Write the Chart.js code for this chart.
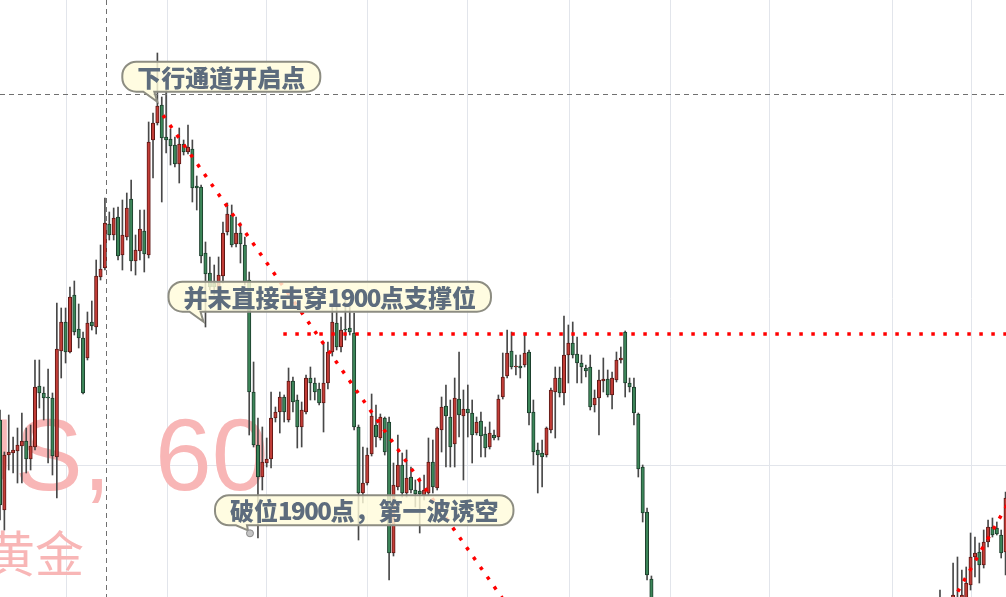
<!DOCTYPE html>
<html><head><meta charset="utf-8">
<script src="https://cdn.jsdelivr.net/npm/chart.js@4.4.1/dist/chart.umd.min.js"></script>
<style>html,body{margin:0;padding:0;background:#fff;overflow:hidden}canvas{display:block}</style>
</head><body><canvas id="c" width="1006" height="597"></canvas>
<script>
// ---- XAUUSD 60-minute candles (index = bar number from the left edge) ----
const segAStart = 0;
const segAOpen = [
1882.8,1864.8,1875.8,1876.2,1876.6,1877.6,1878.6,1875.0,1877.4,1889.6,
1888.2,1887.4,1887.2,1875.4,1896.6,1902.4,1896.4,1907.8,1901.0,1899.2,
1895.2,1902.4,1901.4,1911.4,1913.2,1922.0,1919.8,1923.4,1915.8,1919.4,
1927.0,1914.6,1916.6,1920.6,1915.8,1938.8,1942.2,1945.8,1939.4,1939.0,
1937.8,1934.0,1938.0,1936.4,1937.0,1929.6,1929.4,1916.2,1912.2,1910.2,
1908.8,1911.6,1920.4,1923.8,1918.0,1920.2,1917.8,1910.8,1888.4,1877.8,
1871.4,1874.2,1875.0,1883.2,1884.4,1887.4,1882.8,1890.6,1886.8,1881.4,
1884.4,1891.2,1890.2,1889.0,1886.2,1890.2,1896.4,1902.2,1897.4,1901.0,
1901.2,1900.2,1881.4,1868.2,1870.2,1876.0,1881.8,1879.2,1883.2,1882.4,
1856.2,1869.4,1873.8,1868.2,1871.4,1868.8,1868.6,1867.8,1868.2,1874.4,
1869.2,1880.8,1885.6,1883.4,1878.0,1887.0,1883.6,1885.0,1884.2,1880.2,
1882.6,1880.0,1877.4,1879.8,1879.4,1887.4,1891.6,1896.6,1893.4,1893.6,
1893.8,1896.4,1884.4,1876.8,1876.2,1875.8,1880.8,1888.4,1891.2,1888.2,
1895.8,1898.2,1896.0,1894.2,1893.2,1893.4,1885.8,1887.2,1890.6,1891.0,
1887.8,1890.8,1894.8,1900.4,1890.2,1889.4,1884.0,1873.4,1864.4,1851.0];
const segAHigh = [
1884.8,1876.4,1883.8,1879.4,1881.2,1884.2,1881.2,1881.8,1894.8,1894.8,
1889.4,1893.0,1888.2,1906.2,1905.2,1905.2,1909.4,1910.6,1906.0,1900.4,
1904.4,1906.6,1914.8,1917.8,1927.2,1924.4,1925.2,1925.4,1926.8,1928.2,
1930.8,1919.8,1924.8,1924.8,1942.4,1944.2,1956.2,1947.4,1951.2,1941.0,
1939.4,1941.2,1938.8,1941.8,1938.8,1931.6,1929.8,1918.4,1915.4,1913.8,
1915.4,1922.4,1926.2,1925.8,1923.4,1922.2,1919.4,1912.4,1894.4,1883.2,
1881.4,1879.2,1888.4,1885.4,1888.4,1887.8,1893.2,1891.4,1887.8,1886.4,
1891.8,1893.4,1891.2,1890.2,1898.2,1898.4,1906.2,1905.4,1903.4,1906.8,
1906.2,1904.2,1881.8,1877.4,1877.2,1888.0,1885.8,1884.0,1883.4,1883.4,
1874.2,1879.8,1876.2,1876.8,1873.4,1870.8,1871.2,1871.8,1879.2,1878.8,
1881.4,1887.4,1889.8,1886.8,1891.2,1896.4,1888.8,1889.8,1886.8,1883.4,
1884.4,1881.4,1882.4,1880.8,1887.8,1896.2,1900.8,1900.4,1895.8,1895.8,
1900.2,1896.8,1886.8,1878.2,1878.8,1881.4,1889.2,1893.4,1893.4,1903.6,
1901.8,1902.4,1899.4,1895.8,1893.8,1895.8,1888.8,1892.8,1895.2,1892.8,
1892.4,1896.4,1897.4,1900.6,1891.2,1891.2,1884.2,1873.8,1865.2,1851.6];
const segALow = [
1862.8,1860.8,1872.8,1872.2,1870.2,1870.2,1872.2,1872.8,1876.8,1885.2,
1882.8,1874.2,1871.8,1867.2,1891.2,1894.2,1896.2,1899.8,1897.2,1888.0,
1894.8,1900.8,1900.0,1910.8,1912.8,1918.8,1918.8,1914.8,1912.8,1918.8,
1912.6,1911.8,1914.8,1912.4,1915.2,1931.2,1941.8,1926.4,1936.2,1933.8,
1933.4,1930.2,1935.8,1936.0,1926.4,1924.8,1914.2,1901.4,1908.8,1907.8,
1908.4,1910.2,1919.8,1917.4,1917.4,1914.2,1909.8,1879.8,1877.4,1859.2,
1868.8,1873.4,1873.2,1882.4,1880.2,1882.4,1882.4,1884.4,1877.2,1877.4,
1884.0,1886.8,1886.8,1885.8,1880.4,1889.0,1895.6,1896.8,1896.4,1898.8,
1899.8,1880.8,1858.8,1866.2,1869.8,1875.6,1877.4,1878.8,1875.8,1850.8,
1855.6,1868.8,1867.4,1867.4,1868.2,1865.4,1860.2,1866.8,1867.8,1868.2,
1868.8,1876.4,1873.4,1873.4,1873.4,1879.4,1870.8,1879.4,1874.2,1879.8,
1875.4,1875.4,1877.0,1878.8,1878.8,1887.0,1891.2,1893.0,1891.8,1891.2,
1893.4,1881.8,1873.8,1868.2,1869.4,1875.4,1880.2,1879.2,1887.4,1885.8,
1890.2,1895.2,1890.2,1890.2,1891.4,1884.8,1884.4,1879.8,1888.4,1887.4,
1885.0,1890.4,1894.2,1887.4,1888.4,1881.8,1871.4,1862.4,1850.8,1841.8];
const segAClose = [
1865.8,1875.8,1876.4,1876.8,1877.8,1878.6,1875.0,1877.6,1889.4,1888.2,
1887.2,1887.2,1875.6,1897.0,1902.4,1896.4,1907.4,1900.4,1899.2,1888.2,
1902.2,1901.6,1911.6,1913.0,1922.2,1919.8,1923.2,1915.6,1919.8,1925.2,
1914.6,1916.8,1921.0,1916.0,1938.4,1942.2,1945.6,1939.2,1938.8,1937.6,
1934.0,1938.0,1936.4,1937.4,1929.2,1929.2,1915.6,1912.0,1909.4,1909.4,
1911.8,1920.2,1924.0,1917.8,1920.2,1918.0,1910.4,1888.4,1877.8,1871.4,
1874.4,1875.0,1883.2,1884.4,1887.4,1884.4,1890.6,1886.4,1881.4,1884.8,
1891.2,1890.2,1888.4,1886.2,1890.2,1896.4,1902.4,1897.4,1900.8,1900.8,
1900.4,1881.4,1868.2,1870.2,1875.8,1883.6,1879.4,1883.4,1876.4,1856.2,
1869.8,1873.8,1868.2,1871.2,1868.8,1868.0,1868.0,1868.8,1874.4,1869.4,
1881.2,1885.4,1883.6,1877.4,1887.2,1883.8,1885.0,1884.2,1879.8,1882.4,
1879.6,1877.2,1880.2,1879.2,1887.0,1891.4,1896.2,1893.4,1893.6,1893.2,
1896.2,1884.2,1876.4,1875.8,1875.4,1881.2,1888.8,1891.2,1888.2,1895.8,
1898.2,1895.8,1894.2,1893.4,1892.6,1885.4,1887.2,1890.8,1891.0,1887.8,
1891.2,1894.8,1895.2,1890.2,1889.4,1884.2,1873.0,1864.2,1851.8,1842.8];

const segBStart = 215;
const segBOpen  = [1846.8,null,null,1846.8,1847.0,1846.4,1846.8,1849.8,1855.4,1856.4,1853.8,1858.4,1861.4,1861.2,1859.8,1856.4];
const segBHigh  = [1848.8,null,null,1854.2,1855.4,1852.8,1853.4,1860.2,1859.4,1858.2,1860.8,1862.8,1863.2,1862.4,1860.8,1868.4];
const segBLow   = [1843.8,null,null,1845.8,1844.8,1845.8,1845.8,1848.8,1851.4,1850.2,1853.2,1857.4,1859.4,1859.8,1855.2,1851.8];
const segBClose = [1845.2,null,null,1847.8,1846.2,1847.8,1850.2,1855.4,1856.2,1853.8,1858.4,1861.4,1859.8,1860.0,1856.2,1867.2];

// drawn lines (bar index, price)
const downTrendLine = [{x:37.29, y:1943.76}, {x:120, y:1840.8}];
const supportLine   = [{x:64.8, y:1900}, {x:232, y:1900}];
const upTrendLine   = [{x:215.0, y:1842.2}, {x:231.0, y:1866.8}];
const crosshair = {x:24.18, y:1948.1};

// grid positions (day separators / price level)
const xGridTicks = [15.32, 38.2, 61.07, 84.17, 107.04, 130.37, 153.25, 176.12, 204.25, 222.32];
const yGridTicks = [1873.8];
const xRange = [0, 230.1];
const yRange = [1847.4, 1966.8];

const callouts = [
  {text:'下行通道开启点', x:35.98, y:1946.46, dot:false},
  {text:'并未直接击穿1900点支撑位', x:46.55, y:1902.46, dot:false},
  {text:'破位1900点，第一波诱空', x:57.18, y:1860.14, dot:true}
];
const watermarkMain = ['US,', '60'];
const watermarkSub = '黄金';

// ---- build candles ----
function buildSeg(start, O, H, L, C) {
  const out = [];
  for (let k = 0; k < O.length; k++) {
    if (O[k] == null) continue;
    out.push({x: start + k, o: O[k], h: H[k], l: L[k], c: C[k]});
  }
  return out;
}
const candles = buildSeg(segAStart, segAOpen, segAHigh, segALow, segAClose)
  .concat(buildSeg(segBStart, segBOpen, segBHigh, segBLow, segBClose));

const UP_FILL = '#c23d37', UP_EDGE = '#5e1815';
const DN_FILL = '#3c8659', DN_EDGE = '#1b3d2b';
const CALLOUT_FONT = '900 24px "Noto Sans CJK SC", sans-serif';

// split text into runs: digits get tighter spacing
function runsOf(text) {
  return text.match(/[0-9]+|[^0-9]+/g).map(s => ({s, digit: /^[0-9]/.test(s)}));
}
function setSpacing(ctx, digit) {
  if ('letterSpacing' in ctx) ctx.letterSpacing = digit ? '-1.5px' : '0px';
}
function measureRuns(ctx, runs) {
  let w = 0;
  for (const r of runs) { setSpacing(ctx, r.digit); w += ctx.measureText(r.s).width; }
  setSpacing(ctx, false);
  return w;
}

const overlay = {
  id: 'overlay',
  beforeDatasetsDraw(chart) {
    const ctx = chart.ctx;
    ctx.save();
    ctx.fillStyle = '#f8b6b6';
    ctx.textBaseline = 'alphabetic';
    ctx.font = '102px "Liberation Sans", Arial, sans-serif';
    ctx.textAlign = 'right';
    ctx.fillText(watermarkMain[0], 111, 490);
    ctx.textAlign = 'left';
    ctx.fillText(watermarkMain[1], 155, 490);
    ctx.font = '49px "Noto Sans CJK SC", sans-serif';
    ctx.textAlign = 'right';
    ctx.fillText(watermarkSub, 84, 572);
    ctx.restore();
  },
  afterDatasetsDraw(chart) {
    const ctx = chart.ctx, xs = chart.scales.x, ys = chart.scales.y;
    const a = chart.chartArea;
    ctx.save();
    // crosshair
    ctx.strokeStyle = '#707070';
    ctx.lineWidth = 1;
    ctx.setLineDash([5, 4]);
    const cx = Math.round(xs.getPixelForValue(crosshair.x)) + 0.5;
    const cy = Math.round(ys.getPixelForValue(crosshair.y)) + 0.5;
    ctx.beginPath();
    ctx.moveTo(cx, a.top); ctx.lineTo(cx, a.bottom);
    ctx.moveTo(a.left, cy); ctx.lineTo(a.right, cy);
    ctx.stroke();
    ctx.setLineDash([]);
    // callouts
    for (const c of callouts) {
      const px = xs.getPixelForValue(c.x), py = ys.getPixelForValue(c.y);
      ctx.font = CALLOUT_FONT;
      const runs = runsOf(c.text);
      const tw = measureRuns(ctx, runs);
      const w = tw + 30, h = 30, r = 14;
      const left = px - 35, top = py - (c.dot ? 38 : 40), bottom = top + h, right = left + w;
      const tl = left + 21, tr = left + 32;
      const ex = c.dot ? px - 2 : px, ey = c.dot ? py - 3 : py;
      ctx.beginPath();
      ctx.moveTo(left + r, top);
      ctx.lineTo(right - r, top);
      ctx.arcTo(right, top, right, top + r, r);
      ctx.lineTo(right, bottom - r);
      ctx.arcTo(right, bottom, right - r, bottom, r);
      ctx.lineTo(tr, bottom);
      ctx.lineTo(ex, ey);
      ctx.lineTo(tl, bottom);
      ctx.lineTo(left + r, bottom);
      ctx.arcTo(left, bottom, left, bottom - r, r);
      ctx.lineTo(left, top + r);
      ctx.arcTo(left, top, left + r, top, r);
      ctx.closePath();
      ctx.fillStyle = 'rgba(255,251,218,0.82)';
      ctx.fill();
      ctx.lineWidth = 2;
      ctx.strokeStyle = '#8d8d82';
      ctx.stroke();
      ctx.fillStyle = '#5d6c7d';
      ctx.textBaseline = 'middle';
      ctx.textAlign = 'left';
      let tx = left + 15;
      for (const rn of runs) {
        setSpacing(ctx, rn.digit);
        ctx.fillText(rn.s, tx, top + h / 2 + 1);
        tx += ctx.measureText(rn.s).width;
      }
      setSpacing(ctx, false);
      if (c.dot) {
        ctx.beginPath();
        ctx.arc(px, py, 3.5, 0, Math.PI * 2);
        ctx.fillStyle = '#c4c4c4';
        ctx.fill();
        ctx.lineWidth = 1;
        ctx.strokeStyle = '#888';
        ctx.stroke();
      }
    }
    ctx.restore();
  }
};

function makeChart() {
  const dotted = {type:'line', borderColor:'#f00', borderWidth:3.5, borderDash:[3.5, 8.5],
                  borderCapStyle:'butt', pointRadius:0, fill:false, order:0, tension:0};
  new Chart(document.getElementById('c'), {
    data: {
      datasets: [
        {type:'bar', label:'wick', order:3, grouped:false, barThickness:1,
         data: candles.map(k => ({x:k.x, y:[k.l, k.h]})),
         backgroundColor:'#484848', borderWidth:0},
        {type:'bar', label:'body', order:2, grouped:false, barThickness:3.4,
         data: candles.map(k => ({x:k.x, y:[k.o, k.c]})),
         backgroundColor: ctx => { const k = candles[ctx.dataIndex]; return k && k.c >= k.o ? UP_FILL : DN_FILL; },
         borderColor: ctx => { const k = candles[ctx.dataIndex]; return k && k.c >= k.o ? UP_EDGE : DN_EDGE; },
         borderWidth:1, borderSkipped:false},
        Object.assign({label:'down', data: downTrendLine}, dotted),
        Object.assign({label:'support', data: supportLine}, dotted),
        Object.assign({label:'up', data: upTrendLine}, dotted)
      ]
    },
    options: {
      responsive:false, animation:false, events:[],
      layout:{padding:0},
      plugins:{legend:{display:false}, tooltip:{enabled:false}},
      scales:{
        x:{type:'linear', min:xRange[0], max:xRange[1], offset:false,
           afterBuildTicks: s => { s.ticks = xGridTicks.map(v => ({value:v})); },
           afterFit: s => { s.height = 0; },
           ticks:{display:false}, border:{display:false},
           grid:{color:'#e2e5eb', lineWidth:1, drawTicks:false, offset:false}},
        y:{type:'linear', min:yRange[0], max:yRange[1],
           afterBuildTicks: s => { s.ticks = yGridTicks.map(v => ({value:v})); },
           afterFit: s => { s.width = 0; },
           ticks:{display:false}, border:{display:false},
           grid:{color:'#e2e5eb', lineWidth:1, drawTicks:false}}
      }
    },
    plugins:[overlay]
  });
}
const fontLoads = [
  '900 24px "Noto Sans CJK SC"', 'bold 24px "Noto Sans CJK SC"', '49px "Noto Sans CJK SC"', '102px "Liberation Sans"'
].map(f => document.fonts.load(f, '下行通道黄金US60').catch(() => null));
Promise.all(fontLoads).then(makeChart, makeChart);
</script>
</body></html>
